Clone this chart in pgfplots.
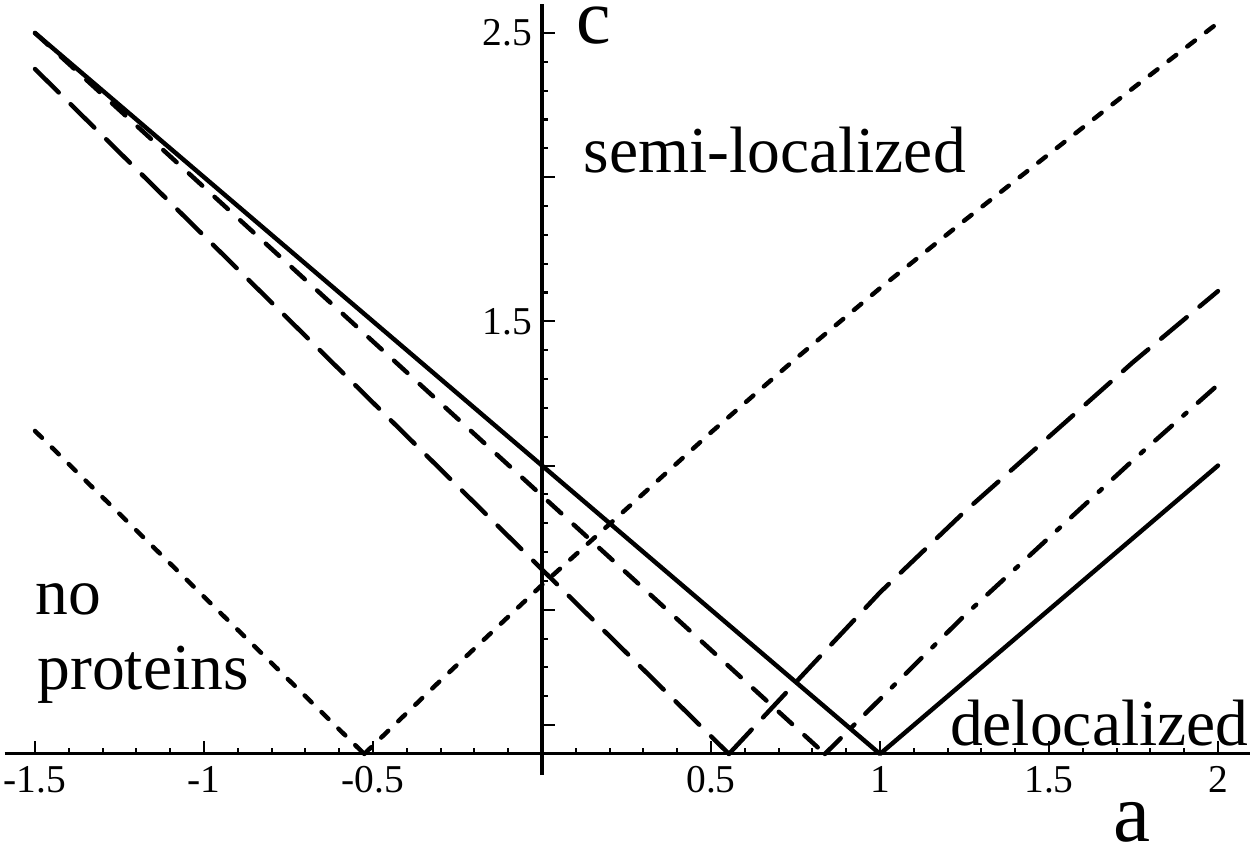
\documentclass[border=0pt]{standalone}
\usepackage{fontspec}
\setmainfont{Liberation Serif}
\usepackage{pgfplots}
\pgfplotsset{compat=1.18}

\begin{document}
\begin{tikzpicture}
\begin{axis}[
  x=121.68pt, y=103.82pt,
  xmin=-1.59, xmax=2.095, ymin=-0.073, ymax=2.60,
  axis lines=middle,
  axis line style={line width=1.1pt, -},
  clip=false,
  tick align=inside,
  major tick length=4.5pt, minor tick length=2.2pt,
  every tick/.style={black, line width=0.75pt},
  xtick={-1.5,-1,-0.5,0.5,1,1.5,2},
  xticklabels={-1.5,-1,-0.5,0.5,1,1.5,2},
  minor xtick={-1.4,-1.3,-1.2,-1.1,-0.9,-0.8,-0.7,-0.6,-0.4,-0.3,-0.2,-0.1,
               0.1,0.2,0.3,0.4,0.6,0.7,0.8,0.9,1.1,1.2,1.3,1.4,1.6,1.7,1.8,1.9},
  ytick={0.1,0.5,1,1.5,2,2.5},
  yticklabels={,,,1.5,,2.5},
  minor ytick={0.2,0.3,0.4,0.6,0.7,0.8,0.9,1.1,1.2,1.3,1.4,1.6,1.7,1.8,1.9,
               2.1,2.2,2.3,2.4},
  tick label style={font=\fontsize{14.2}{17}\selectfont},
  xticklabel style={yshift=-0.8pt},
  every axis plot/.append style={black, line width=1.6pt, line cap=round, line join=round},
]
% boundary c = |1 - a|
\addplot[solid] coordinates {(-1.5,2.5) (1,0) (2,1)};

% medium-dashed boundary, left branch
\addplot[dash pattern=on 6.5pt off 6pt] coordinates {(-1.5,2.50) (0.837,0)};
% its right branch, dash-dotted
\addplot[dash pattern=on 8pt off 5.5pt on 1.5pt off 5.5pt] coordinates {
  (0.837,0) (1.0,0.19) (1.25,0.48) (1.5,0.75) (1.75,1.02) (2.0,1.28)};

% long-dashed boundary
\addplot[dash pattern=on 12pt off 6pt] coordinates {(-1.5,2.375) (0.553,0)};
\addplot[dash pattern=on 12pt off 6pt] coordinates {
  (0.553,0) (0.8,0.31) (1.0,0.56) (1.25,0.84) (1.5,1.1) (1.75,1.36) (2.0,1.605)};

% short-dashed boundary
\addplot[dash pattern=on 3.5pt off 5pt] coordinates {(-1.5,1.12) (-0.526,0)};
\addplot[dash pattern=on 3.5pt off 5pt] coordinates {
  (-0.526,0) (-0.3,0.255) (0,0.586) (0.25,0.85) (0.5,1.115) (0.75,1.37)
  (1.0,1.615) (1.25,1.85) (1.5,2.08) (1.75,2.31) (2.0,2.535)};

% region names and axis names
\node[anchor=base west, inner sep=0pt, font=\fontsize{23.6}{28}\selectfont]
  at (axis cs:0.1213,2.0146) {semi-localized};
\node[anchor=base east, inner sep=0pt, font=\fontsize{23.6}{28}\selectfont]
  at (axis cs:2.092,0.0277) {delocalized};
\node[anchor=base west, inner sep=0pt, font=\fontsize{23.6}{28}\selectfont]
  at (axis cs:-1.5,0.482) {no};
\node[anchor=base west, inner sep=0pt, font=\fontsize{23.6}{28}\selectfont]
  at (axis cs:-1.494,0.222) {proteins};
\node[anchor=base west, inner sep=0pt, font=\fontsize{28}{32}\selectfont]
  at (axis cs:0.100,2.462) {c};
\node[anchor=base west, inner sep=0pt, font=\fontsize{30}{34}\selectfont]
  at (axis cs:1.690,-0.305) {a};

\coordinate (bl) at (axis cs:-1.6036,-0.319);
\coordinate (tr) at (axis cs:2.0947,2.6144);
\end{axis}
\pgfresetboundingbox
\useasboundingbox (bl) rectangle (tr);
\end{tikzpicture}
\end{document}
